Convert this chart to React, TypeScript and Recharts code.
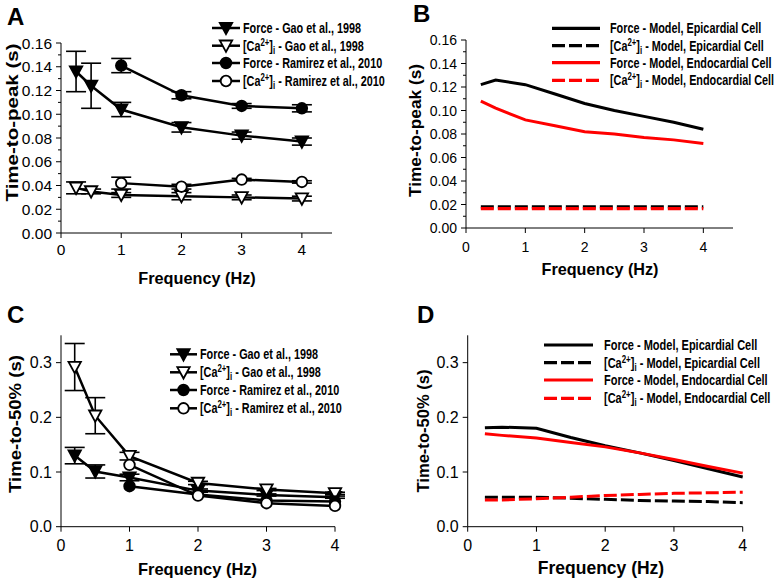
import React from 'react';
import { LineChart, Line, XAxis, YAxis, ErrorBar } from 'recharts';

const FONT = "'Liberation Sans', Arial, Helvetica, sans-serif";

// ---------- Panel A: time-to-peak, experiments ----------
const freqGaoA = [0.25, 0.5, 1, 2, 3, 4];
const forceGaoTTP = [0.136, 0.124, 0.104, 0.089, 0.082, 0.077];
const forceGaoTTPErr = [0.017, 0.019, 0.006, 0.004, 0.003, 0.003];
const caGaoTTP = [0.038, 0.035, 0.032, 0.031, 0.03, 0.029];
const caGaoTTPErr = [0.005, 0.002, 0.002, 0.003, 0.002, 0.002];
const freqRamirez = [1, 2, 3, 4];
const forceRamTTP = [0.141, 0.116, 0.107, 0.105];
const forceRamTTPErr = [0.006, 0.003, 0.002, 0.003];
const caRamTTP = [0.042, 0.039, 0.045, 0.043];
const caRamTTPErr = [0.005, 0.002, 0.001, 0.001];

// ---------- Panel B: time-to-peak, model ----------
const freqModel = [0.25, 0.5, 1, 1.5, 2, 2.5, 3, 3.5, 4];
const forceEpiTTP = [0.122, 0.126, 0.122, 0.114, 0.106, 0.1, 0.095, 0.09, 0.084];
const caEpiTTP = [0.018, 0.018, 0.018, 0.018, 0.018, 0.018, 0.018, 0.018, 0.018];
const forceEndoTTP = [0.108, 0.102, 0.092, 0.087, 0.082, 0.08, 0.077, 0.075, 0.072];
const caEndoTTP = [0.0165, 0.0165, 0.0165, 0.0165, 0.0165, 0.0165, 0.0165, 0.0165, 0.0165];

// ---------- Panel C: time-to-50%, experiments ----------
const freqGaoC = [0.2, 0.5, 1, 2, 3, 4];
const forceGaoT50 = [0.13, 0.101, 0.09, 0.066, 0.058, 0.054];
const forceGaoT50Err = [0.015, 0.012, 0.006, 0.003, 0.002, 0.002];
const caGaoT50 = [0.292, 0.203, 0.129, 0.08, 0.068, 0.061];
const caGaoT50Err = [0.043, 0.033, 0.007, 0.003, 0.002, 0.002];
const forceRamT50 = [0.074, 0.059, 0.048, 0.046];
const caRamT50 = [0.113, 0.057, 0.043, 0.038];

// ---------- Panel D: time-to-50%, model ----------
const forceEpiT50 = [0.181, 0.182, 0.18, 0.163, 0.148, 0.135, 0.121, 0.106, 0.091];
const caEpiT50 = [0.054, 0.054, 0.054, 0.052, 0.05, 0.048, 0.047, 0.046, 0.044];
const forceEndoT50 = [0.17, 0.167, 0.162, 0.154, 0.146, 0.135, 0.123, 0.11, 0.098];
const caEndoT50 = [0.049, 0.049, 0.051, 0.054, 0.057, 0.059, 0.061, 0.062, 0.063];

// ---------- Ticks & labels ----------
const ttpTicks = [0, 0.01, 0.02, 0.03, 0.04, 0.05, 0.06, 0.07, 0.08, 0.09, 0.1, 0.11, 0.12, 0.13, 0.14, 0.15, 0.16];
const ttpMajor = [0, 0.02, 0.04, 0.06, 0.08, 0.1, 0.12, 0.14, 0.16];
const t50Ticks = [0, 0.1, 0.2, 0.3];
const freqTicks = [0, 1, 2, 3, 4];

const expLabels = [
  { ca: false, text: 'Force - Gao et al., 1998' },
  { ca: true, text: ' - Gao et al., 1998' },
  { ca: false, text: 'Force - Ramirez et al., 2010' },
  { ca: true, text: ' - Ramirez et al., 2010' },
];
const modelLabels = [
  { ca: false, text: 'Force - Model, Epicardial Cell' },
  { ca: true, text: ' - Model, Epicardial Cell' },
  { ca: false, text: 'Force - Model, Endocardial Cell' },
  { ca: true, text: ' - Model, Endocardial Cell' },
];
const xTitle = 'Frequency (Hz)';
const yTitleTTP = 'Time-to-peak (s)';
const yTitleT50 = 'Time-to-50% (s)';

const rows = (xs: number[], ys: number[], es?: number[]) =>
  xs.map((x, i) => ({ x, y: ys[i], e: es ? es[i] : 0 }));

// ---------- Markers ----------
const triDot = (filled: boolean) => (p: any) => {
  const { cx, cy, index } = p;
  if (cx == null || cy == null) return <g key={index} />;
  const w = 6.2;
  return (
    <path
      key={index}
      d={`M${cx - w},${cy - 5.2} L${cx + w},${cy - 5.2} L${cx},${cy + 6.2} Z`}
      fill={filled ? '#000' : '#fff'}
      stroke="#000"
      strokeWidth={1.8}
      strokeLinejoin="miter"
    />
  );
};
const circDot = (filled: boolean) => (p: any) => {
  const { cx, cy, index } = p;
  if (cx == null || cy == null) return <g key={index} />;
  return <circle key={index} cx={cx} cy={cy} r={5.3} fill={filled ? '#000' : '#fff'} stroke="#000" strokeWidth={1.8} />;
};

// ---------- Ticks ----------
const makeYTick = (majors: number[], fs: number, digits: number) => (p: any) => {
  const { x, y, payload } = p;
  const v = payload.value;
  const major = majors.some((m) => Math.abs(m - v) < 1e-9);
  return (
    <g>
      <line x1={x} y1={y} x2={x - (major ? 5 : 3)} y2={y} stroke="#000" strokeWidth={1} />
      {major && (
        <text x={x - 9} y={y} dy="0.36em" textAnchor="end" fontSize={fs} fontFamily={FONT} fill="#000">
          {v.toFixed(digits)}
        </text>
      )}
    </g>
  );
};
const makeXTick = (fs: number, off: number) => (p: any) => {
  const { x, y, payload } = p;
  return (
    <g>
      <line x1={x} y1={y} x2={x} y2={y + 5} stroke="#000" strokeWidth={1} />
      <text x={x} y={y + off} dy="0.36em" textAnchor="middle" fontSize={fs} fontFamily={FONT} fill="#000">
        {payload.value}
      </text>
    </g>
  );
};

// ---------- Overlay helpers ----------
const LEG_SCALE = 0.775;
function LegendText({ x, y, fs, label }: any) {
  const s = fs * 0.72;
  return (
    <g transform={`translate(${x}, ${y}) scale(${LEG_SCALE}, 1)`}>
      <text x={0} y={0} dy="0.36em" fontSize={fs} fontFamily={FONT} fontWeight="bold" fill="#000">
        {label.ca ? (
          <>
            [Ca
            <tspan dy={-5} fontSize={s}>2+</tspan>
            <tspan dy={5}>]</tspan>
            <tspan dy={3} fontSize={s}>i</tspan>
            <tspan dy={-3}>{label.text}</tspan>
          </>
        ) : (
          label.text
        )}
      </text>
    </g>
  );
}

function LegendRow({ x1, x2, tx, y, stroke, dash, sw, marker, label, fs }: any) {
  const mx = (x1 + x2) / 2;
  let m: any = null;
  if (marker === 'triF') m = triDot(true)({ cx: mx, cy: y, index: 0 });
  if (marker === 'triO') m = triDot(false)({ cx: mx, cy: y, index: 0 });
  if (marker === 'cirF') m = circDot(true)({ cx: mx, cy: y, index: 0 });
  if (marker === 'cirO') m = circDot(false)({ cx: mx, cy: y, index: 0 });
  return (
    <g>
      <line x1={x1} y1={y} x2={x2} y2={y} stroke={stroke} strokeWidth={sw} strokeDasharray={dash} />
      {m}
      <LegendText x={tx} y={y} fs={fs} label={label} />
    </g>
  );
}

function YTitle({ cx, cy, len, text, fs }: any) {
  return (
    <text
      x={cx}
      y={cy}
      transform={`rotate(-90, ${cx}, ${cy})`}
      textAnchor="middle"
      dominantBaseline="central"
      fontSize={fs}
      fontWeight="bold"
      fontFamily={FONT}
      textLength={len}
      lengthAdjust="spacingAndGlyphs"
      fill="#000"
    >
      {text}
    </text>
  );
}
function XTitle({ cx, cy, text, fs }: any) {
  return (
    <text x={cx} y={cy} textAnchor="middle" dominantBaseline="central" fontSize={fs} fontWeight="bold" fontFamily={FONT} fill="#000">
      {text}
    </text>
  );
}
function Letter({ x, y, text }: any) {
  return (
    <text x={x} y={y} fontSize={24} fontWeight="bold" fontFamily={FONT} fill="#000">
      {text}
    </text>
  );
}

const BLACK = '#000000';
const RED = '#ff0000';

export default function App() {
  const markers = ['triF', 'triO', 'cirF', 'cirO'];
  const modelStyles = [
    { stroke: BLACK, dash: undefined },
    { stroke: BLACK, dash: '13 4' },
    { stroke: RED, dash: undefined },
    { stroke: RED, dash: '13 4' },
  ];
  const legA = [28, 45.7, 63, 81];
  const legB = [28.3, 45.7, 62.7, 80.3];
  const legC = [354.3, 372.3, 390, 408.3];
  const legD = [345, 362.7, 380, 398.3];

  return (
    <div style={{ position: 'absolute', left: 0, top: 0, width: 781, height: 581, background: '#fff', overflow: 'hidden' }}>
      {/* Panel A */}
      <div style={{ position: 'absolute', left: 0, top: 0 }}>
        <LineChart width={390} height={290} margin={{ top: 43, right: 58, left: 0, bottom: 0 }}>
          <XAxis type="number" dataKey="x" domain={[0, 4.5]} ticks={freqTicks} interval={0} height={57}
            axisLine={{ stroke: '#000' }} tickLine={false} tickSize={0} tickMargin={0} tick={makeXTick(15.5, 16)} />
          <YAxis type="number" domain={[0, 0.16]} ticks={ttpTicks} interval={0} width={61}
            axisLine={{ stroke: '#000' }} tickLine={false} tickSize={0} tickMargin={0} tick={makeYTick(ttpMajor, 15.5, 2)} />
          <Line data={rows(freqGaoA, forceGaoTTP, forceGaoTTPErr)} dataKey="y" stroke="#000" strokeWidth={2.5} dot={triDot(true)} isAnimationActive={false}>
            <ErrorBar dataKey="e" width={10} stroke="#000" strokeWidth={1.6} direction="y" />
          </Line>
          <Line data={rows(freqGaoA, caGaoTTP, caGaoTTPErr)} dataKey="y" stroke="#000" strokeWidth={2.5} dot={triDot(false)} isAnimationActive={false}>
            <ErrorBar dataKey="e" width={10} stroke="#000" strokeWidth={1.6} direction="y" />
          </Line>
          <Line data={rows(freqRamirez, forceRamTTP, forceRamTTPErr)} dataKey="y" stroke="#000" strokeWidth={2.5} dot={circDot(true)} isAnimationActive={false}>
            <ErrorBar dataKey="e" width={10} stroke="#000" strokeWidth={1.6} direction="y" />
          </Line>
          <Line data={rows(freqRamirez, caRamTTP, caRamTTPErr)} dataKey="y" stroke="#000" strokeWidth={2.5} dot={circDot(false)} isAnimationActive={false}>
            <ErrorBar dataKey="e" width={10} stroke="#000" strokeWidth={1.6} direction="y" />
          </Line>
        </LineChart>
      </div>

      {/* Panel B */}
      <div style={{ position: 'absolute', left: 390, top: 0 }}>
        <LineChart width={391} height={290} margin={{ top: 40, right: 48, left: 0, bottom: 0 }}>
          <XAxis type="number" dataKey="x" domain={[0, 4.5]} ticks={freqTicks} interval={0} height={62}
            axisLine={{ stroke: '#000' }} tickLine={false} tickSize={0} tickMargin={0} tick={makeXTick(14, 18.5)} />
          <YAxis type="number" domain={[0, 0.16]} ticks={ttpTicks} interval={0} width={76}
            axisLine={{ stroke: '#000' }} tickLine={false} tickSize={0} tickMargin={0} tick={makeYTick(ttpMajor, 14, 2)} />
          <Line data={rows(freqModel, forceEpiTTP)} dataKey="y" stroke={BLACK} strokeWidth={3} dot={false} isAnimationActive={false} />
          <Line data={rows(freqModel, caEpiTTP)} dataKey="y" stroke={BLACK} strokeWidth={3.2} strokeDasharray="13 4" dot={false} isAnimationActive={false} />
          <Line data={rows(freqModel, forceEndoTTP)} dataKey="y" stroke={RED} strokeWidth={3} dot={false} isAnimationActive={false} />
          <Line data={rows(freqModel, caEndoTTP)} dataKey="y" stroke={RED} strokeWidth={3.2} strokeDasharray="13 4" dot={false} isAnimationActive={false} />
        </LineChart>
      </div>

      {/* Panel C */}
      <div style={{ position: 'absolute', left: 0, top: 290 }}>
        <LineChart width={390} height={291} margin={{ top: 45.3, right: 55, left: 0, bottom: 0 }}>
          <XAxis type="number" dataKey="x" domain={[0, 4]} ticks={freqTicks} interval={0} height={54.3}
            axisLine={{ stroke: '#000' }} tickLine={false} tickSize={0} tickMargin={0} tick={makeXTick(16, 19)} />
          <YAxis type="number" domain={[0, 0.35]} ticks={t50Ticks} interval={0} width={61}
            axisLine={{ stroke: '#000' }} tickLine={false} tickSize={0} tickMargin={0} tick={makeYTick(t50Ticks, 16, 1)} />
          <Line data={rows(freqGaoC, forceGaoT50, forceGaoT50Err)} dataKey="y" stroke="#000" strokeWidth={2.5} dot={triDot(true)} isAnimationActive={false}>
            <ErrorBar dataKey="e" width={10} stroke="#000" strokeWidth={1.6} direction="y" />
          </Line>
          <Line data={rows(freqGaoC, caGaoT50, caGaoT50Err)} dataKey="y" stroke="#000" strokeWidth={2.5} dot={triDot(false)} isAnimationActive={false}>
            <ErrorBar dataKey="e" width={10} stroke="#000" strokeWidth={1.6} direction="y" />
          </Line>
          <Line data={rows(freqRamirez, forceRamT50)} dataKey="y" stroke="#000" strokeWidth={2.5} dot={circDot(true)} isAnimationActive={false} />
          <Line data={rows(freqRamirez, caRamT50)} dataKey="y" stroke="#000" strokeWidth={2.5} dot={circDot(false)} isAnimationActive={false} />
        </LineChart>
      </div>

      {/* Panel D */}
      <div style={{ position: 'absolute', left: 390, top: 290 }}>
        <LineChart width={391} height={291} margin={{ top: 45.3, right: 38.3, left: 0, bottom: 0 }}>
          <XAxis type="number" dataKey="x" domain={[0, 4]} ticks={freqTicks} interval={0} height={54.3}
            axisLine={{ stroke: '#000' }} tickLine={false} tickSize={0} tickMargin={0} tick={makeXTick(16, 18.5)} />
          <YAxis type="number" domain={[0, 0.35]} ticks={t50Ticks} interval={0} width={77.7}
            axisLine={{ stroke: '#000' }} tickLine={false} tickSize={0} tickMargin={0} tick={makeYTick(t50Ticks, 16, 1)} />
          <Line data={rows(freqModel, forceEpiT50)} dataKey="y" stroke={BLACK} strokeWidth={3} dot={false} isAnimationActive={false} />
          <Line data={rows(freqModel, caEpiT50)} dataKey="y" stroke={BLACK} strokeWidth={3} strokeDasharray="13 4" dot={false} isAnimationActive={false} />
          <Line data={rows(freqModel, forceEndoT50)} dataKey="y" stroke={RED} strokeWidth={3} dot={false} isAnimationActive={false} />
          <Line data={rows(freqModel, caEndoT50)} dataKey="y" stroke={RED} strokeWidth={3} strokeDasharray="13 4" dot={false} isAnimationActive={false} />
        </LineChart>
      </div>

      {/* Annotations overlay */}
      <svg width={781} height={581} style={{ position: 'absolute', left: 0, top: 0, pointerEvents: 'none' }}>
        <Letter x={7} y={25} text="A" />
        <Letter x={413} y={22} text="B" />
        <Letter x={7} y={323} text="C" />
        <Letter x={417} y={323} text="D" />

        <XTitle cx={197} cy={277.5} text={xTitle} fs={16.3} />
        <XTitle cx={600} cy={268.5} text={xTitle} fs={16.2} />
        <XTitle cx={197.5} cy={568.5} text={xTitle} fs={16.5} />
        <XTitle cx={601} cy={568} text={xTitle} fs={17.5} />

        <YTitle cx={12} cy={122.5} len={158} text={yTitleTTP} fs={17} />
        <YTitle cx={415} cy={130.5} len={133} text={yTitleTTP} fs={17} />
        <YTitle cx={15.5} cy={424} len={138} text={yTitleT50} fs={17} />
        <YTitle cx={423.5} cy={431} len={123} text={yTitleT50} fs={17} />

        {expLabels.map((l, i) => (
          <LegendRow key={'a' + i} x1={212} x2={240} tx={243} y={legA[i]} stroke="#000" sw={2.5} marker={markers[i]} label={l} fs={14} />
        ))}
        {modelLabels.map((l, i) => (
          <LegendRow key={'b' + i} x1={552} x2={600} tx={610} y={legB[i]} stroke={modelStyles[i].stroke} dash={modelStyles[i].dash} sw={3.2} label={l} fs={14} />
        ))}
        {expLabels.map((l, i) => (
          <LegendRow key={'c' + i} x1={170} x2={197} tx={200} y={legC[i]} stroke="#000" sw={2.5} marker={markers[i]} label={l} fs={14} />
        ))}
        {modelLabels.map((l, i) => (
          <LegendRow key={'d' + i} x1={544} x2={593} tx={604} y={legD[i]} stroke={modelStyles[i].stroke} dash={modelStyles[i].dash} sw={3.2} label={l} fs={14.2} />
        ))}
      </svg>
    </div>
  );
}
